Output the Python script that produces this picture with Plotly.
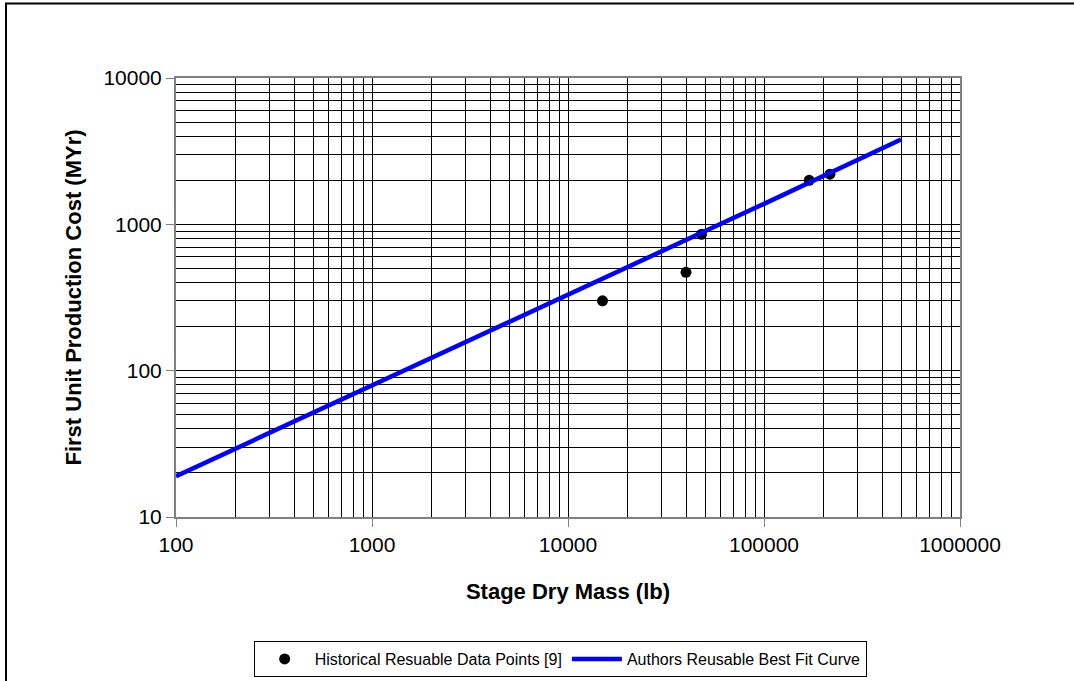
import plotly.graph_objects as go

# Historical data points
hist_mass = [15000, 40000, 48000, 170000, 217000]
hist_cost = [300, 470, 855, 2000, 2200]

# Best fit curve
fit_mass = [100, 1000, 10000, 100000, 500000]
fit_cost = [19, 79, 330, 1380, 3800]

x_major = [100, 1000, 10000, 100000, 1000000]
y_major = [10, 100, 1000, 10000]

def minor_vals(lo_exp, hi_exp):
    vals = []
    for e in range(lo_exp, hi_exp):
        for m in range(2, 10):
            vals.append(m * 10 ** e)
    return vals

x_minor = minor_vals(2, 6)
y_minor = minor_vals(1, 4)

font = "Arial, 'Liberation Sans', sans-serif"

fig = go.Figure()
fig.add_trace(go.Scatter(x=hist_mass, y=hist_cost, mode="markers",
                         name="Historical Resuable Data Points [9]",
                         marker=dict(color="black", size=11)))
fig.add_trace(go.Scatter(x=fit_mass, y=fit_cost, mode="lines",
                         name="Authors Reusable Best Fit Curve",
                         line=dict(color="#0000ff", width=4.5)))

axis_common = dict(
    type="log", showline=True, linecolor="#808080", linewidth=2, mirror=True,
    ticks="outside", ticklen=8, tickcolor="#808080", tickwidth=1,
    showgrid=True, gridcolor="black", gridwidth=1, zeroline=False,
    tickfont=dict(family=font, size=21, color="black"),
    automargin=False,
)

fig.update_xaxes(**axis_common, range=[2, 6], tickmode="array",
                 tickvals=x_major, ticktext=[str(v) for v in x_major],
                 minor=dict(tickmode="array", tickvals=x_minor, showgrid=True,
                            gridcolor="black", gridwidth=1, ticks=""),
                 title=dict(text="<b>Stage Dry Mass (lb)</b>",
                            font=dict(family=font, size=22, color="black"), standoff=28))
fig.update_yaxes(**axis_common, range=[1, 4], tickmode="array",
                 tickvals=y_major, ticktext=[str(v) for v in y_major],
                 minor=dict(tickmode="array", tickvals=y_minor, showgrid=True,
                            gridcolor="black", gridwidth=1, ticks=""),
                 title=dict(text="<b>First Unit Production Cost (MYr)</b>",
                            font=dict(family=font, size=22, color="black"), standoff=16))

fig.update_layout(
    width=1074, height=681,
    margin=dict(l=176, r=114, t=78, b=164, autoexpand=False),
    paper_bgcolor="white", plot_bgcolor="white",
    showlegend=True,
    legend=dict(orientation="h", x=0.49, xanchor="center",
                yref="container", y=1 - 641 / 681, yanchor="top",
                bordercolor="black", borderwidth=1,
                font=dict(family=font, size=16, color="black"),
                itemwidth=50, tracegroupgap=0),
    shapes=[dict(type="rect", xref="paper", yref="paper",
                 x0=(6 - 176) / 784, x1=(1090 - 176) / 784,
                 y0=(517 - 700) / 439, y1=(517 - 3.5) / 439,
                 line=dict(color="black", width=2), fillcolor="rgba(0,0,0,0)",
                 layer="above")],
)

fig.write_html("out.html", config={"displayModeBar": False},
               post_script="document.body.style.margin='0';")
